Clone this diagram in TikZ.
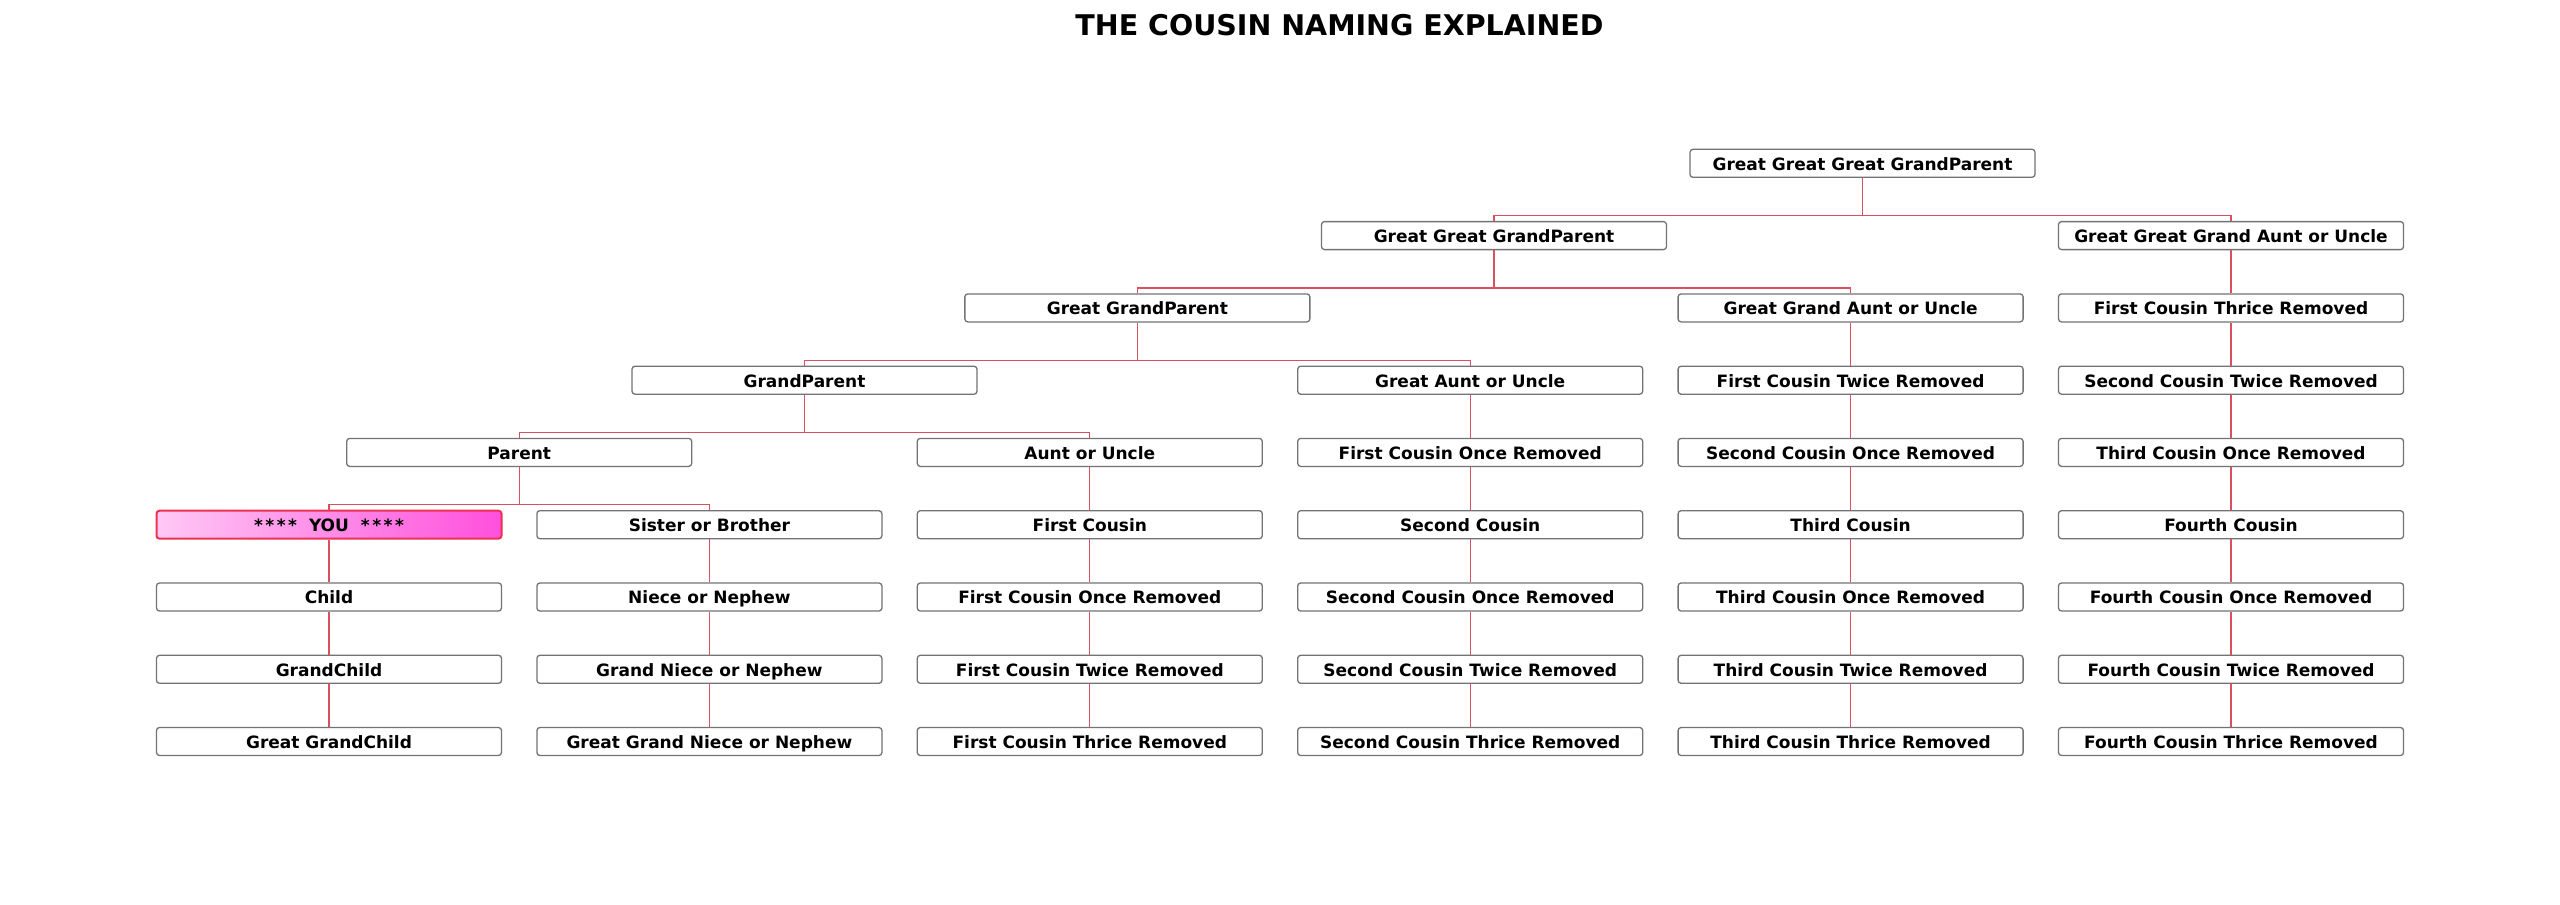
\documentclass[tikz,border=0pt]{standalone}
\usepackage{fontspec}
\setmainfont{DejaVu Sans}
\definecolor{boxgray}{RGB}{115,115,115}
\definecolor{linkred}{RGB}{218,80,95}
\definecolor{youborder}{RGB}{235,50,80}
\definecolor{youleft}{RGB}{255,200,245}
\definecolor{youright}{RGB}{255,80,220}
\newcommand{\stars}{*\kern2.5pt*\kern2.5pt*\kern2.5pt*}
\tikzset{
  person/.style={draw=boxgray, line width=1.3pt, rounded corners=3pt, fill=white,
    minimum width=345pt, minimum height=28pt, inner sep=0pt,
    text height=15.6pt, text depth=1.8pt,
    font=\bfseries\fontsize{17}{20}\selectfont},
  youbox/.style={person, draw=youborder, line width=2pt, left color=youleft, right color=youright},
  link/.style={draw=linkred, line width=1.2pt},
  titletext/.style={font=\bfseries\fontsize{28.5}{32}\selectfont, inner sep=0pt}
}
\begin{document}
\begin{tikzpicture}[x=1pt,y=-1pt]
\fill[white] (0,0) rectangle (2560,905);
\useasboundingbox (0,0) rectangle (2560,905);
\node[titletext] (title) at (1339.5,25) {THE COUSIN NAMING EXPLAINED};
% ancestors
\node[person] (ggg) at (1862.5,163.3) {Great Great Great GrandParent};
\node[person] (gg) at (1494,235.6) {Great Great GrandParent};
\node[person] (g) at (1137.35,307.9) {Great GrandParent};
\node[person] (gp) at (804.5,380.2) {GrandParent};
\node[person] (p) at (519.2,452.4) {Parent};
% column 0
\node[youbox] (n05) at (329,524.7) {\stars\kern6pt{} YOU \kern6pt\stars};
\node[person] (n06) at (329,597.0) {Child};
\node[person] (n07) at (329,669.3) {GrandChild};
\node[person] (n08) at (329,741.5) {Great GrandChild};
% column 1
\node[person] (n15) at (709.4,524.7) {Sister or Brother};
\node[person] (n16) at (709.4,597.0) {Niece or Nephew};
\node[person] (n17) at (709.4,669.3) {Grand Niece or Nephew};
\node[person] (n18) at (709.4,741.5) {Great Grand Niece or Nephew};
% column 2
\node[person] (n24) at (1089.8,452.4) {Aunt or Uncle};
\node[person] (n25) at (1089.8,524.7) {First Cousin};
\node[person] (n26) at (1089.8,597.0) {First Cousin Once Removed};
\node[person] (n27) at (1089.8,669.3) {First Cousin Twice Removed};
\node[person] (n28) at (1089.8,741.5) {First Cousin Thrice Removed};
% column 3
\node[person] (n33) at (1470.2,380.2) {Great Aunt or Uncle};
\node[person] (n34) at (1470.2,452.4) {First Cousin Once Removed};
\node[person] (n35) at (1470.2,524.7) {Second Cousin};
\node[person] (n36) at (1470.2,597.0) {Second Cousin Once Removed};
\node[person] (n37) at (1470.2,669.3) {Second Cousin Twice Removed};
\node[person] (n38) at (1470.2,741.5) {Second Cousin Thrice Removed};
% column 4
\node[person] (n42) at (1850.6,307.9) {Great Grand Aunt or Uncle};
\node[person] (n43) at (1850.6,380.2) {First Cousin Twice Removed};
\node[person] (n44) at (1850.6,452.4) {Second Cousin Once Removed};
\node[person] (n45) at (1850.6,524.7) {Third Cousin};
\node[person] (n46) at (1850.6,597.0) {Third Cousin Once Removed};
\node[person] (n47) at (1850.6,669.3) {Third Cousin Twice Removed};
\node[person] (n48) at (1850.6,741.5) {Third Cousin Thrice Removed};
% column 5
\node[person] (n51) at (2231,235.6) {Great Great Grand Aunt or Uncle};
\node[person] (n52) at (2231,307.9) {First Cousin Thrice Removed};
\node[person] (n53) at (2231,380.2) {Second Cousin Twice Removed};
\node[person] (n54) at (2231,452.4) {Third Cousin Once Removed};
\node[person] (n55) at (2231,524.7) {Fourth Cousin};
\node[person] (n56) at (2231,597.0) {Fourth Cousin Once Removed};
\node[person] (n57) at (2231,669.3) {Fourth Cousin Twice Removed};
\node[person] (n58) at (2231,741.5) {Fourth Cousin Thrice Removed};
% branches
\foreach \up/\a/\b in {ggg/gg/n51, gg/g/n42, g/gp/n33, gp/p/n24, p/n05/n15}{
  \draw[link] (\up.south) -- ++(0,37.8) coordinate (bar-\up);
  \draw[link] (\a.north) |- (bar-\up) -| (\b.north);
}
% chains
\foreach \u/\v in {n05/n06, n06/n07, n07/n08,
  n15/n16, n16/n17, n17/n18,
  n24/n25, n25/n26, n26/n27, n27/n28,
  n33/n34, n34/n35, n35/n36, n36/n37, n37/n38,
  n42/n43, n43/n44, n44/n45, n45/n46, n46/n47, n47/n48,
  n51/n52, n52/n53, n53/n54, n54/n55, n55/n56, n56/n57, n57/n58}{
  \draw[link] (\u.south) -- (\v.north);
}
\end{tikzpicture}
\end{document}
